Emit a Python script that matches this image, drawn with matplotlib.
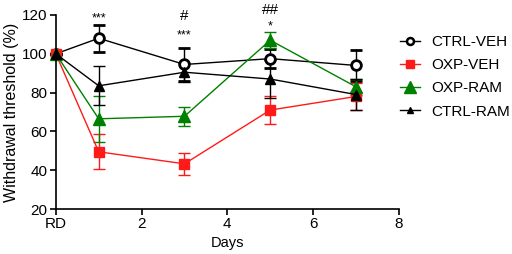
import matplotlib
matplotlib.use("Agg")
import matplotlib.pyplot as plt
from matplotlib.lines import Line2D

plt.rcParams["font.family"] = ["Liberation Sans", "DejaVu Sans"]

days = [0, 1, 3, 5, 7]
x_ticks = [0, 2, 4, 6, 8]
x_tick_labels = ["RD", "2", "4", "6", "8"]

ctrl_veh = [100, 108, 94.5, 97.5, 94]
ctrl_veh_err = [0, 7, 8.5, 5, 8]
oxp_veh = [100, 49.5, 43.3, 71, 78]
oxp_veh_err = [0, 9, 5.5, 7, 7]
oxp_ram = [100, 66.5, 67.8, 107, 83]
oxp_ram_err = [0, 12, 5, 4, 4]
ctrl_ram = [100, 83.5, 90.5, 87, 79]
ctrl_ram_err = [0, 10, 5, 10, 8]

# significance marks: (day, text, y in data units)
sig_marks = [(1, "***", 118.3), (3, "#", 119.6), (3, "***", 109.4),
             (5, "##", 122.4), (5, "*", 114.3)]

fig = plt.figure(figsize=(5.12, 2.54), dpi=100)
ax = fig.add_axes([0.109, 0.177, 0.670, 0.764])

series = [
    ("CTRL-VEH", ctrl_veh, ctrl_veh_err, "black",
     dict(marker="o", markersize=7, markerfacecolor="white", markeredgewidth=2),
     dict(marker="o", markersize=5, markerfacecolor="white", markeredgewidth=1.8)),
    ("OXP-VEH", oxp_veh, oxp_veh_err, "#ff1a1a",
     dict(marker="s", markersize=7), dict(marker="s", markersize=6)),
    ("OXP-RAM", oxp_ram, oxp_ram_err, "#008000",
     dict(marker="^", markersize=8.5), dict(marker="^", markersize=8)),
    ("CTRL-RAM", ctrl_ram, ctrl_ram_err, "black",
     dict(marker="^", markersize=6.5), dict(marker="^", markersize=5)),
]

handles = []
for name, vals, errs, col, mk, leg_mk in series:
    ax.errorbar(days, vals, yerr=errs, color=col, lw=1.0, elinewidth=1.0,
                capsize=4, capthick=1.0, clip_on=False, **mk)
    handles.append(Line2D([], [], color=col, lw=1.0, label=name, **leg_mk))

for d, txt, y in sig_marks:
    ax.text(d, y, txt, ha="center", va="center",
            fontsize=11 if "#" in txt else 9, zorder=5)

ax.set_xlim(0, 8)
ax.set_ylim(20, 120)
ax.set_xticks(x_ticks)
ax.set_xticklabels(x_tick_labels)
ax.set_yticks(range(20, 121, 20))
ax.set_xlabel("Days", fontsize=10.5, labelpad=3)
ax.set_ylabel("Withdrawal threshold (%)", fontsize=11.5, labelpad=2)
ax.tick_params(labelsize=11, width=1.2, length=4, direction="out", pad=2)
for s in ("top", "right"):
    ax.spines[s].set_visible(False)
for s in ("left", "bottom"):
    ax.spines[s].set_linewidth(1.2)

fig.legend(handles=handles, loc="upper left", bbox_to_anchor=(0.781, 0.862),
           frameon=False, fontsize=11, handlelength=1.35, handletextpad=0.7,
           labelspacing=0.6, borderpad=0, borderaxespad=0)

fig.savefig("out.png", dpi=100)
